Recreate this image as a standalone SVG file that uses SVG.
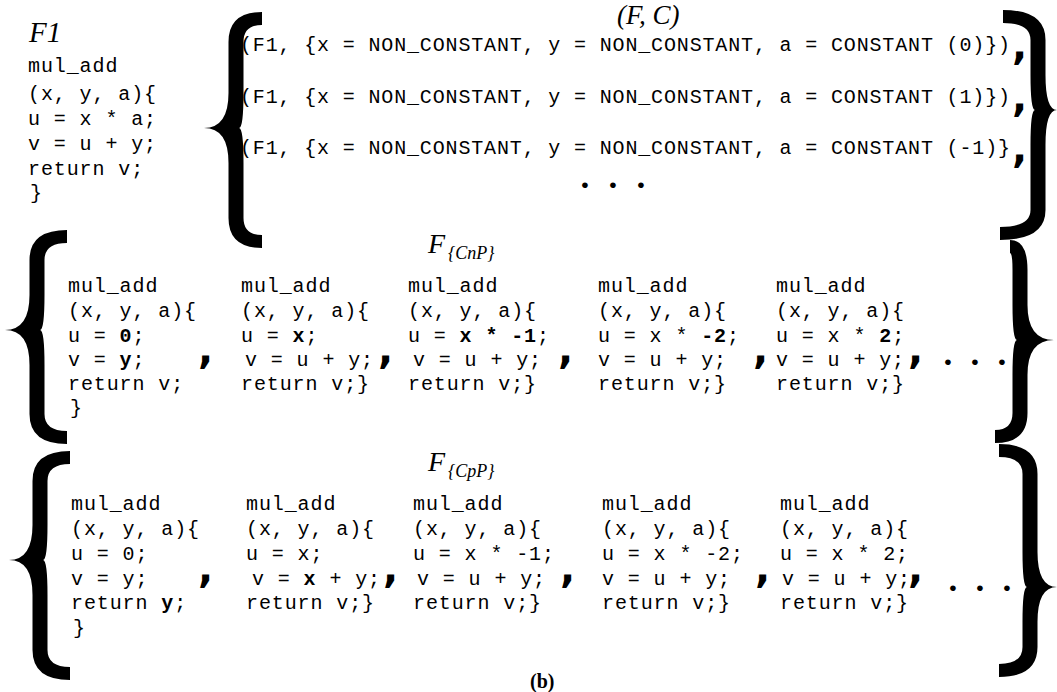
<svg xmlns="http://www.w3.org/2000/svg" width="1057" height="692" viewBox="0 0 1057 692">
<style>
.code{font-family:"Liberation Mono","Courier New",monospace;font-size:20px;letter-spacing:0.9px;fill:#000}
.row{font-family:"Liberation Mono","Courier New",monospace;font-size:20px;fill:#000}
.b{font-weight:bold}
.it{font-family:"Liberation Serif","Times New Roman",serif;font-style:italic;fill:#000}
.mk{font-family:"DejaVu Sans",sans-serif;font-weight:bold;font-size:40px;fill:#000}
.dot{font-family:"Liberation Sans",Arial,sans-serif;font-size:21px;text-anchor:middle;fill:#000}
.brace{fill:#000;stroke:none}
.cap{font-family:"Liberation Serif","Times New Roman",serif;font-weight:bold;font-size:20px;fill:#000}
</style>
<rect width="1057" height="692" fill="#fff"/>
<g id="braces">
<path class="brace" d="M262 12 Q228.5 12 228.5 42 L228.5 93 Q228.5 128 204 128 Q228.5 128 228.5 163 L228.5 218 Q228.5 248 262 248 L262 235 Q243.5 235 243.5 218 L243.5 163 Q243.5 128 239 128 Q243.5 128 243.5 93 L243.5 42 Q243.5 25 262 25 Z"/>
<path class="brace" d="M67 230 Q29.5 230 29.5 260 L29.5 295 Q29.5 330 5 330 Q29.5 330 29.5 365 L29.5 414 Q29.5 444 67 444 L67 431 Q44.5 431 44.5 414 L44.5 365 Q44.5 330 40 330 Q44.5 330 44.5 295 L44.5 260 Q44.5 243 67 243 Z"/>
<path class="brace" d="M70 451 Q32.5 451 32.5 481 L32.5 525 Q32.5 560 9 560 Q32.5 560 32.5 595 L32.5 650 Q32.5 680 70 680 L70 667 Q47.5 667 47.5 650 L47.5 595 Q47.5 560 43 560 Q47.5 560 47.5 525 L47.5 481 Q47.5 464 70 464 Z"/>
<g transform="matrix(-1 0 0 1 1057 0)">
<path class="brace" d="M54 10 Q11.5 10 11.5 40 L11.5 75 Q11.5 110 0 110 Q11.5 110 11.5 145 L11.5 210 Q11.5 240 57 240 L57 227 Q26.5 227 26.5 210 L26.5 145 Q26.5 110 22 110 Q26.5 110 26.5 75 L26.5 40 Q26.5 23 54 23 Z"/>
<path class="brace" d="M47 240 Q29.5 240 29.5 270 L29.5 305 Q29.5 340 3 340 Q29.5 340 29.5 375 L29.5 413 Q29.5 443 62 443 L62 430 Q44.5 430 44.5 413 L44.5 375 Q44.5 340 40 340 Q44.5 340 44.5 305 L44.5 270 Q44.5 253 47 253 Z"/>
<path class="brace" d="M58 444 Q19.5 444 19.5 474 L19.5 552 Q19.5 587 0 587 Q19.5 587 19.5 622 L19.5 647 Q19.5 677 58 677 L58 664 Q34.5 664 34.5 647 L34.5 622 Q34.5 587 30 587 Q34.5 587 34.5 552 L34.5 474 Q34.5 457 58 457 Z"/>
</g>
</g>
<g id="f1">
<text class="it" x="29" y="42" font-size="29">F1</text>
<text class="code" x="28" y="72">mul_add</text>
<text class="code" x="28" y="100">(x, y, a){</text>
<text class="code" x="28" y="125">u = x * a;</text>
<text class="code" x="28" y="150">v = u + y;</text>
<text class="code" x="28" y="175">return v;</text>
<text class="code" x="30" y="199">}</text>
</g>
<g id="fc-set">
<text class="it" x="617" y="24" font-size="27">(F, C)</text>
<text class="row" x="240" y="51" textLength="770" lengthAdjust="spacing">(F1, {x = NON_CONSTANT, y = NON_CONSTANT, a = CONSTANT (0)})</text>
<text class="row" x="240" y="103" textLength="770" lengthAdjust="spacing">(F1, {x = NON_CONSTANT, y = NON_CONSTANT, a = CONSTANT (1)})</text>
<text class="row" x="240" y="154" textLength="770" lengthAdjust="spacing">(F1, {x = NON_CONSTANT, y = NON_CONSTANT, a = CONSTANT (-1)}</text>
<text class="mk" x="1012" y="59">,</text>
<text class="mk" x="1012" y="111">,</text>
<text class="mk" x="1012" y="162">,</text>
<text class="dot" x="585 613 641" y="192">•••</text>
</g>
<g id="fcnp">
<text class="it" x="428" y="253" font-size="28">F<tspan font-size="18" dx="3" dy="6">{CnP}</tspan></text>
<g id="cnp1">
<text class="code" x="68" y="292">mul_add</text>
<text class="code" x="68" y="317">(x, y, a){</text>
<text class="code" x="68" y="342">u = <tspan class="b">0</tspan>;</text>
<text class="code" x="68" y="366">v = <tspan class="b">y</tspan>;</text>
<text class="code" x="68" y="390">return v;</text>
<text class="code" x="70" y="414">}</text>
</g>
<g id="cnp2">
<text class="code" x="241" y="292">mul_add</text>
<text class="code" x="241" y="317">(x, y, a){</text>
<text class="code" x="241" y="342">u = <tspan class="b">x</tspan>;</text>
<text class="code" x="245" y="366">v = u + y;</text>
<text class="code" x="241" y="390">return v;}</text>
</g>
<g id="cnp3">
<text class="code" x="408" y="292">mul_add</text>
<text class="code" x="408" y="317">(x, y, a){</text>
<text class="code" x="408" y="342">u = <tspan class="b">x * -1</tspan>;</text>
<text class="code" x="413" y="366">v = u + y;</text>
<text class="code" x="408" y="390">return v;}</text>
</g>
<g id="cnp4">
<text class="code" x="598" y="292">mul_add</text>
<text class="code" x="598" y="317">(x, y, a){</text>
<text class="code" x="598" y="342">u = x * <tspan class="b">-2</tspan>;</text>
<text class="code" x="598" y="366">v = u + y;</text>
<text class="code" x="598" y="390">return v;}</text>
</g>
<g id="cnp5">
<text class="code" x="776" y="292">mul_add</text>
<text class="code" x="776" y="317">(x, y, a){</text>
<text class="code" x="776" y="342">u = x * <tspan class="b">2</tspan>;</text>
<text class="code" x="776" y="366">v = u + y;</text>
<text class="code" x="776" y="390">return v;}</text>
</g>
<text class="mk" x="198" y="363">,</text>
<text class="mk" x="378" y="363">,</text>
<text class="mk" x="558" y="363">,</text>
<text class="mk" x="753" y="363">,</text>
<text class="mk" x="908" y="363">,</text>
<text class="dot" x="948 975 1002" y="369">•••</text>
</g>
<g id="fcpp">
<text class="it" x="428" y="471" font-size="28">F<tspan font-size="18" dx="3" dy="6">{CpP}</tspan></text>
<g id="cpp1">
<text class="code" x="71" y="510">mul_add</text>
<text class="code" x="71" y="535">(x, y, a){</text>
<text class="code" x="71" y="560">u = 0;</text>
<text class="code" x="71" y="585">v = y;</text>
<text class="code" x="71" y="609">return <tspan class="b">y</tspan>;</text>
<text class="code" x="73" y="634">}</text>
</g>
<g id="cpp2">
<text class="code" x="246" y="510">mul_add</text>
<text class="code" x="246" y="535">(x, y, a){</text>
<text class="code" x="246" y="560">u = x;</text>
<text class="code" x="252" y="585">v = <tspan class="b">x</tspan> + y;</text>
<text class="code" x="246" y="609">return v;}</text>
</g>
<g id="cpp3">
<text class="code" x="413" y="510">mul_add</text>
<text class="code" x="413" y="535">(x, y, a){</text>
<text class="code" x="413" y="560">u = x * -1;</text>
<text class="code" x="417" y="585">v = u + y;</text>
<text class="code" x="413" y="609">return v;}</text>
</g>
<g id="cpp4">
<text class="code" x="602" y="510">mul_add</text>
<text class="code" x="602" y="535">(x, y, a){</text>
<text class="code" x="602" y="560">u = x * -2;</text>
<text class="code" x="602" y="585">v = u + y;</text>
<text class="code" x="602" y="609">return v;}</text>
</g>
<g id="cpp5">
<text class="code" x="780" y="510">mul_add</text>
<text class="code" x="780" y="535">(x, y, a){</text>
<text class="code" x="780" y="560">u = x * 2;</text>
<text class="code" x="782" y="585">v = u + y;</text>
<text class="code" x="780" y="609">return v;}</text>
</g>
<text class="mk" x="198" y="582">,</text>
<text class="mk" x="383" y="582">,</text>
<text class="mk" x="560" y="582">,</text>
<text class="mk" x="755" y="582">,</text>
<text class="mk" x="908" y="582">,</text>
<text class="dot" x="953 980 1007" y="595">•••</text>
</g>
<text id="caption" class="cap" x="530" y="688">(b)</text>
</svg>
